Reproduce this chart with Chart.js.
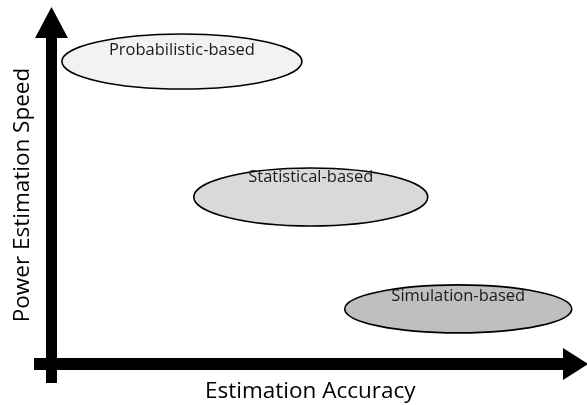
<!DOCTYPE html>
<html>
<head>
<meta charset="utf-8">
<script src="https://cdn.jsdelivr.net/npm/chart.js@4/dist/chart.umd.min.js"></script>
<style>
  html, body { margin: 0; padding: 0; background: #ffffff; }
  #wrap { width: 587px; height: 405px; }
</style>
</head>
<body>
<div id="wrap"><canvas id="c" width="587" height="405"></canvas></div>
<script>
// ---- data ----
const categories = ["Probabilistic-based", "Statistical-based", "Simulation-based"];
const accuracy   = [2.52, 5.01, 7.86];   // x: Estimation Accuracy
const speed      = [8.95, 4.94, 1.63];   // y: Power Estimation Speed
const xTitle = "Estimation Accuracy";
const yTitle = "Power Estimation Speed";

// ---- styles ----
const ellipseStyle = {
  rx: [120, 117, 113.5],
  ry: [27.5, 29, 24],
  fill: ["#f2f2f2", "#d9d9d9", "#bfbfbf"],
  labelDy: [-11.5, -20, -13]
};
const FONT = "'Open Sans', 'Liberation Sans', sans-serif";

const ellipsePlugin = {
  id: 'ellipses',
  afterDatasetsDraw(chart) {
    const ctx = chart.ctx;
    const meta = chart.getDatasetMeta(0);
    ctx.save();
    meta.data.forEach((pt, i) => {
      ctx.beginPath();
      ctx.ellipse(pt.x, pt.y, ellipseStyle.rx[i], ellipseStyle.ry[i], 0, 0, Math.PI * 2);
      ctx.fillStyle = ellipseStyle.fill[i];
      ctx.fill();
      ctx.lineWidth = 1.6;
      ctx.strokeStyle = "#000000";
      ctx.stroke();
      ctx.fillStyle = "#1a1a1a";
      ctx.font = "16.5px " + FONT;
      ctx.textAlign = "center";
      ctx.textBaseline = "middle";
      ctx.fillText(categories[i], pt.x, pt.y + ellipseStyle.labelDy[i]);
    });
    ctx.restore();
  }
};

const arrowPlugin = {
  id: 'arrows',
  beforeDatasetsDraw(chart) {
    const ctx = chart.ctx;
    const xs = chart.scales.x, ys = chart.scales.y;
    const ox = xs.getPixelForValue(0);
    const oy = ys.getPixelForValue(0);
    const ca = chart.chartArea;
    ctx.save();
    ctx.fillStyle = "#000000";
    // horizontal shaft
    ctx.fillRect(ox - 17.5, oy - 6, (ca.right - 6) - (ox - 17.5) + 1, 12);
    // horizontal head
    ctx.beginPath();
    ctx.moveTo(ca.right - 6, oy - 16);
    ctx.lineTo(ca.right + 19, oy);
    ctx.lineTo(ca.right - 6, oy + 16);
    ctx.closePath();
    ctx.fill();
    // vertical shaft
    ctx.fillRect(ox - 5.5, ca.top + 11, 11, (oy + 19) - (ca.top + 11));
    // vertical head
    ctx.beginPath();
    ctx.moveTo(ox - 16.5, ca.top + 12);
    ctx.lineTo(ox, ca.top - 19);
    ctx.lineTo(ox + 16.5, ca.top + 12);
    ctx.closePath();
    ctx.fill();
    ctx.restore();
  }
};

new Chart(document.getElementById('c'), {
  type: 'scatter',
  data: {
    labels: categories,
    datasets: [{
      label: 'methods',
      data: accuracy.map((a, i) => ({ x: a, y: speed[i] })),
      pointRadius: 0,
      pointHoverRadius: 0
    }]
  },
  options: {
    responsive: false,
    animation: false,
    devicePixelRatio: 1,
    layout: { padding: { top: 26, right: 18, left: 0, bottom: 0 } },
    plugins: { legend: { display: false }, tooltip: { enabled: false } },
    events: [],
    scales: {
      x: {
        type: 'linear', min: 0, max: 10,
        grid: { display: false, drawTicks: false },
        border: { display: false },
        ticks: { display: false },
        title: {
          display: true, text: xTitle, color: "#000000",
          font: { family: FONT, size: 22.5, lineHeight: 1.0 },
          padding: { top: 16.75, bottom: 1.75 }
        }
      },
      y: {
        type: 'linear', min: 0, max: 10,
        grid: { display: false, drawTicks: false },
        border: { display: false },
        ticks: { display: false },
        title: {
          display: true, text: yTitle, color: "#000000",
          font: { family: FONT, size: 22.5 },
          padding: { top: 9.5, bottom: 15 }
        }
      }
    }
  },
  plugins: [arrowPlugin, ellipsePlugin]
});
</script>
</body>
</html>
